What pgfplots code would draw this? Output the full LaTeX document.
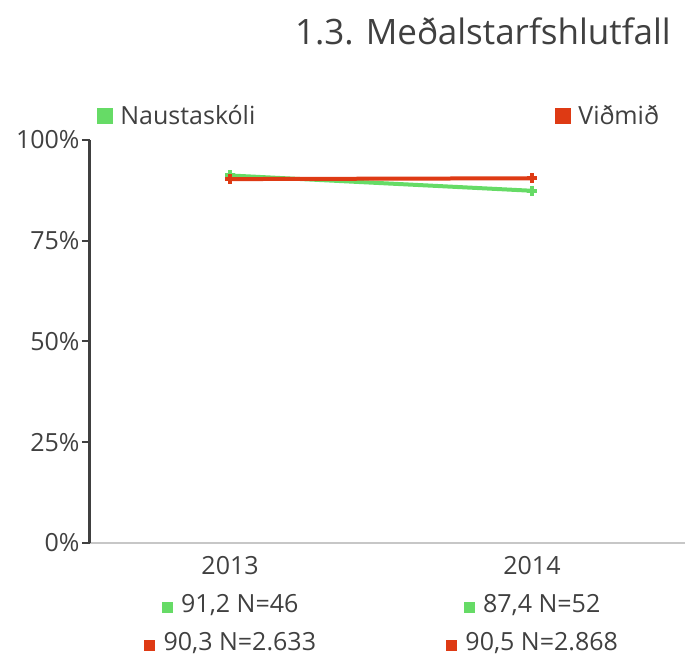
\documentclass[border=0pt]{standalone}
\usepackage{pgfplots}
\pgfplotsset{compat=1.18}
\usepackage{fontspec}
\setmainfont{Open Sans}
\definecolor{cgreen}{RGB}{102,219,102}
\definecolor{cred}{RGB}{222,58,20}
\definecolor{ctext}{RGB}{64,64,64}
\newcommand{\sq}[1]{\textcolor{#1}{\rule{11pt}{11pt}}\hspace{2pt}}
\begin{document}
\begin{tikzpicture}[x=1pt,y=1pt]
\useasboundingbox (0,0) rectangle (689,662);
\node[anchor=base east, font=\fontsize{35}{40}\selectfont, text=ctext, inner sep=0] at (671,617) {1.3. Meðalstarfshlutfall};
\begin{axis}[
  at={(90pt,119pt)}, anchor=south west,
  scale only axis, width=595pt, height=403pt,
  xmin=-0.464, xmax=1.507, ymin=0, ymax=100,
  axis x line=bottom, axis y line=left,
  axis line style={-},
  x axis line style={draw=black!22, line width=2pt},
  y axis line style={draw=ctext, line width=3pt},
  xtick={0,1}, xtick style={draw=none},
  xticklabels={
    {2013\\\sq{cgreen} 91,2 N=46\\\sq{cred} 90,3 N=2.633},
    {2014\\\sq{cgreen} 87,4 N=52\\\sq{cred} 90,5 N=2.868}},
  xticklabel style={align=center, font=\fontsize{25}{38}\selectfont, text=ctext, yshift=-2pt},
  ytick={0,25,50,75,100},
  yticklabel={\pgfmathprintnumber{\tick}\%},
  yticklabel style={font=\fontsize{25}{28}\selectfont, text=ctext, xshift=1pt},
  /pgf/number format/assume math mode=true,
  ytick style={draw=ctext, line width=2pt},
  tick align=outside, major tick length=8pt,
  clip=false,
  legend columns=2,
  legend style={at={(0.012,1.06)}, anchor=west, draw=none, fill=none, inner sep=0pt,
    font=\fontsize{25}{28}\selectfont, text=ctext,
    nodes={inner xsep=7pt},
    /tikz/every even column/.append style={column sep=293pt}},
  legend image code/.code={\fill[#1] (0pt,-6pt) rectangle (12pt,6pt);},
]
\addplot[cgreen, line width=4pt, mark=+, mark size=5pt, mark options={line width=4pt}] coordinates {(0,91.2) (1,87.4)};
\addlegendentry{Naustaskóli}
\addplot[cred, line width=4pt, mark=+, mark size=5pt, mark options={line width=4pt}] coordinates {(0,90.3) (1,90.5)};
\addlegendentry{Viðmið}
\end{axis}
\end{tikzpicture}
\end{document}
